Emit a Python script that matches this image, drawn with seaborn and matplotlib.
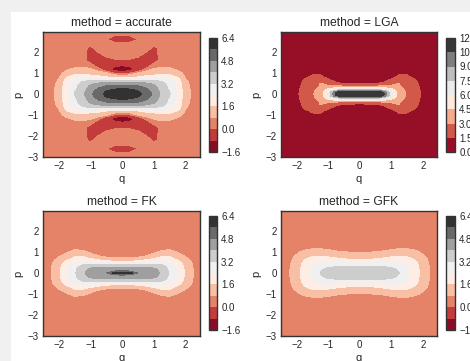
import matplotlib
matplotlib.use("Agg")
import matplotlib.pyplot as plt
from matplotlib.patches import Rectangle
import numpy as np
import pandas as pd
import seaborn as sns

# Phase-space density W(q, p) on a quarter grid
# (q >= 0, p >= 0); the panels are symmetric in q and p.
METHODS = ["accurate", "LGA", "FK", "GFK"]
Q_HALF = [0.0, 0.25, 0.5, 0.75, 1.0, 1.25, 1.5, 1.75, 2.0, 2.25, 2.5]
P_HALF = [0.0, 0.1, 0.2, 0.3, 0.4, 0.5, 0.6, 0.7, 0.8, 0.9, 1.0, 1.1, 1.2,
          1.4, 1.6, 1.8, 2.0, 2.2, 2.4, 2.6, 2.8, 3.0]

W_ACCURATE = [
    [6.3, 6.1, 5.8, 5.3, 4.6, 3.8, 3.25, 2.2, 1.2, 0.55, 0.2],
    [6.15, 5.98, 5.7, 5.2, 4.55, 3.75, 3.18, 2.18, 1.18, 0.54, 0.2],
    [5.85, 5.7, 5.45, 5.0, 4.35, 3.65, 3.1, 2.12, 1.15, 0.52, 0.2],
    [5.45, 5.35, 5.15, 4.75, 4.25, 3.62, 3.0, 2.08, 1.12, 0.48, 0.19],
    [4.95, 4.9, 4.75, 4.45, 4.1, 3.6, 2.95, 2.05, 1.1, 0.45, 0.18],
    [4.4, 4.38, 4.3, 4.1, 3.85, 3.45, 2.85, 2.02, 1.02, 0.42, 0.16],
    [3.75, 3.75, 3.7, 3.6, 3.45, 3.18, 2.75, 2.0, 0.95, 0.38, 0.15],
    [2.8, 2.85, 2.85, 2.9, 2.9, 2.8, 2.5, 1.85, 0.82, 0.34, 0.13],
    [1.45, 1.5, 1.65, 2.0, 2.25, 2.3, 2.1, 1.58, 0.72, 0.3, 0.12],
    [0.78, 0.85, 1.25, 1.4, 1.58, 1.8, 1.65, 1.35, 0.6, 0.26, 0.1],
    [-0.15, -0.05, 0.9, 1.05, 1.3, 1.4, 1.35, 1.15, 0.5, 0.22, 0.09],
    [-0.9, -0.8, -0.2, 0.75, 1.1, 1.15, 1.1, 0.85, 0.4, 0.18, 0.08],
    [-1.1, -0.95, -0.6, 0.1, 0.85, 0.95, 0.9, 0.65, 0.32, 0.15, 0.07],
    [-0.7, -0.6, -0.7, -0.6, 0.2, 0.5, 0.45, 0.35, 0.2, 0.1, 0.05],
    [-0.05, -0.1, -0.4, -0.7, -0.35, 0.25, 0.2, 0.15, 0.1, 0.07, 0.04],
    [0.25, 0.22, 0.12, -0.45, -0.55, 0.5, 0.1, 0.08, 0.06, 0.05, 0.04],
    [0.35, 0.35, 0.35, 0.05, -0.5, 0.55, 0.08, 0.06, 0.05, 0.05, 0.04],
    [0.3, 0.3, 0.3, 0.35, -0.15, 0.2, 0.1, 0.06, 0.05, 0.05, 0.04],
    [0.12, 0.12, 0.15, 0.25, 0.25, 0.15, 0.12, 0.08, 0.05, 0.05, 0.04],
    [-0.3, -0.25, 0.02, 0.15, 0.2, 0.2, 0.12, 0.08, 0.05, 0.05, 0.04],
    [0.05, 0.05, 0.08, 0.12, 0.15, 0.15, 0.12, 0.08, 0.05, 0.05, 0.04],
    [0.15, 0.15, 0.15, 0.15, 0.15, 0.15, 0.12, 0.08, 0.05, 0.05, 0.04],
]

W_LGA = [
    [11.8, 11.8, 11.6, 11.0, 6.5, 3.5, 2.9, 2.3, 1.2, 0.6, 0.3],
    [11.3, 11.3, 11.1, 10.3, 6.2, 3.45, 2.85, 2.25, 1.15, 0.6, 0.3],
    [7.6, 7.6, 7.55, 7.0, 5.2, 3.35, 2.8, 2.2, 1.1, 0.55, 0.3],
    [4.6, 4.6, 4.6, 4.55, 3.9, 3.2, 2.7, 2.1, 1.0, 0.5, 0.28],
    [2.4, 2.45, 2.55, 2.7, 3.05, 3.05, 2.55, 2.0, 0.95, 0.45, 0.25],
    [1.2, 1.25, 1.4, 1.8, 2.6, 3.05, 2.45, 1.9, 0.9, 0.45, 0.25],
    [0.75, 0.8, 0.95, 1.3, 2.1, 2.8, 2.3, 1.75, 0.85, 0.4, 0.22],
    [0.5, 0.52, 0.6, 0.9, 1.6, 2.3, 2.1, 1.55, 0.75, 0.35, 0.2],
    [0.35, 0.36, 0.42, 0.6, 1.1, 1.9, 1.8, 1.2, 0.6, 0.3, 0.18],
    [0.25, 0.26, 0.3, 0.42, 0.8, 1.55, 1.52, 0.95, 0.5, 0.25, 0.15],
    [0.18, 0.18, 0.2, 0.3, 0.55, 1.2, 1.15, 0.75, 0.4, 0.2, 0.12],
    [0.12, 0.12, 0.14, 0.2, 0.4, 0.9, 0.85, 0.55, 0.3, 0.16, 0.1],
    [0.1, 0.1, 0.1, 0.15, 0.3, 0.65, 0.6, 0.4, 0.22, 0.12, 0.08],
    [0.06, 0.06, 0.07, 0.08, 0.15, 0.35, 0.3, 0.2, 0.12, 0.08, 0.05],
    [0.05, 0.05, 0.05, 0.06, 0.08, 0.15, 0.14, 0.1, 0.07, 0.05, 0.04],
    [0.04, 0.04, 0.04, 0.05, 0.06, 0.08, 0.08, 0.06, 0.05, 0.04, 0.04],
    [0.04, 0.04, 0.04, 0.04, 0.05, 0.05, 0.05, 0.05, 0.04, 0.04, 0.04],
    [0.04, 0.04, 0.04, 0.04, 0.04, 0.04, 0.04, 0.04, 0.04, 0.04, 0.04],
    [0.04, 0.04, 0.04, 0.04, 0.04, 0.04, 0.04, 0.04, 0.04, 0.04, 0.04],
    [0.04, 0.04, 0.04, 0.04, 0.04, 0.04, 0.04, 0.04, 0.04, 0.04, 0.04],
    [0.04, 0.04, 0.04, 0.04, 0.04, 0.04, 0.04, 0.04, 0.04, 0.04, 0.04],
    [0.04, 0.04, 0.04, 0.04, 0.04, 0.04, 0.04, 0.04, 0.04, 0.04, 0.04],
]

W_FK = [
    [6.0, 5.95, 4.75, 4.5, 4.3, 3.85, 3.1, 2.38, 1.45, 0.78, 0.4],
    [4.78, 4.72, 4.6, 4.45, 4.25, 3.8, 3.05, 2.35, 1.42, 0.76, 0.4],
    [4.45, 4.45, 4.4, 4.3, 4.1, 3.7, 3.0, 2.3, 1.4, 0.75, 0.4],
    [3.85, 3.85, 3.85, 3.85, 3.8, 3.5, 2.9, 2.2, 1.35, 0.73, 0.38],
    [3.35, 3.35, 3.35, 3.4, 3.35, 3.15, 2.7, 2.05, 1.3, 0.7, 0.37],
    [2.0, 2.05, 2.2, 2.5, 2.7, 2.7, 2.45, 1.85, 1.2, 0.65, 0.35],
    [1.3, 1.32, 1.45, 1.75, 2.0, 2.15, 2.05, 1.62, 1.05, 0.6, 0.32],
    [0.85, 0.88, 0.98, 1.2, 1.55, 1.8, 1.75, 1.35, 0.9, 0.52, 0.3],
    [0.55, 0.57, 0.65, 0.85, 1.15, 1.55, 1.55, 1.1, 0.75, 0.45, 0.27],
    [0.4, 0.42, 0.48, 0.6, 0.9, 1.2, 1.25, 0.9, 0.62, 0.38, 0.24],
    [0.3, 0.32, 0.36, 0.45, 0.7, 0.95, 1.0, 0.75, 0.5, 0.32, 0.2],
    [0.25, 0.26, 0.28, 0.35, 0.52, 0.75, 0.82, 0.6, 0.42, 0.27, 0.18],
    [0.2, 0.2, 0.22, 0.28, 0.4, 0.58, 0.65, 0.48, 0.34, 0.22, 0.16],
    [0.15, 0.15, 0.16, 0.2, 0.27, 0.38, 0.42, 0.33, 0.24, 0.17, 0.12],
    [0.12, 0.12, 0.13, 0.15, 0.2, 0.26, 0.28, 0.24, 0.18, 0.13, 0.1],
    [0.1, 0.1, 0.1, 0.12, 0.15, 0.18, 0.2, 0.17, 0.14, 0.11, 0.09],
    [0.08, 0.08, 0.08, 0.09, 0.11, 0.13, 0.14, 0.13, 0.11, 0.09, 0.08],
    [0.07, 0.07, 0.07, 0.08, 0.09, 0.1, 0.1, 0.1, 0.09, 0.08, 0.07],
    [0.07, 0.07, 0.07, 0.07, 0.08, 0.08, 0.08, 0.08, 0.08, 0.07, 0.07],
    [0.06, 0.06, 0.06, 0.06, 0.07, 0.07, 0.07, 0.07, 0.07, 0.06, 0.06],
    [0.06, 0.06, 0.06, 0.06, 0.06, 0.06, 0.06, 0.06, 0.06, 0.06, 0.06],
    [0.06, 0.06, 0.06, 0.06, 0.06, 0.06, 0.06, 0.06, 0.06, 0.06, 0.06],
]

W_GFK = [
    [3.75, 3.75, 3.72, 3.65, 3.5, 3.22, 2.6, 2.0, 1.3, 0.75, 0.4],
    [3.7, 3.7, 3.68, 3.6, 3.45, 3.15, 2.58, 1.98, 1.28, 0.74, 0.4],
    [3.5, 3.5, 3.5, 3.45, 3.35, 3.05, 2.52, 1.95, 1.25, 0.72, 0.39],
    [3.18, 3.18, 3.19, 3.19, 3.12, 2.9, 2.45, 1.9, 1.22, 0.7, 0.38],
    [2.75, 2.75, 2.8, 2.85, 2.85, 2.7, 2.35, 1.85, 1.2, 0.68, 0.37],
    [2.3, 2.32, 2.42, 2.5, 2.55, 2.45, 2.2, 1.75, 1.15, 0.66, 0.36],
    [1.8, 1.82, 1.92, 2.05, 2.15, 2.15, 2.0, 1.62, 1.08, 0.63, 0.35],
    [1.35, 1.38, 1.48, 1.65, 1.8, 1.85, 1.78, 1.48, 1.0, 0.6, 0.33],
    [1.05, 1.07, 1.15, 1.3, 1.5, 1.62, 1.55, 1.3, 0.9, 0.55, 0.31],
    [0.88, 0.9, 0.95, 1.05, 1.22, 1.35, 1.32, 1.12, 0.79, 0.5, 0.29],
    [0.76, 0.77, 0.82, 0.88, 1.0, 1.1, 1.1, 0.95, 0.7, 0.46, 0.27],
    [0.62, 0.63, 0.66, 0.72, 0.82, 0.9, 0.9, 0.78, 0.6, 0.42, 0.26],
    [0.5, 0.5, 0.53, 0.58, 0.66, 0.72, 0.72, 0.64, 0.5, 0.37, 0.24],
    [0.35, 0.35, 0.37, 0.4, 0.45, 0.48, 0.48, 0.44, 0.36, 0.28, 0.2],
    [0.26, 0.26, 0.27, 0.29, 0.31, 0.33, 0.33, 0.31, 0.27, 0.22, 0.17],
    [0.2, 0.2, 0.21, 0.22, 0.23, 0.24, 0.24, 0.23, 0.21, 0.18, 0.15],
    [0.17, 0.17, 0.17, 0.18, 0.18, 0.19, 0.19, 0.18, 0.17, 0.15, 0.13],
    [0.15, 0.15, 0.15, 0.15, 0.16, 0.16, 0.16, 0.16, 0.15, 0.14, 0.12],
    [0.14, 0.14, 0.14, 0.14, 0.14, 0.14, 0.14, 0.14, 0.14, 0.13, 0.12],
    [0.13, 0.13, 0.13, 0.13, 0.13, 0.13, 0.13, 0.13, 0.13, 0.12, 0.11],
    [0.12, 0.12, 0.12, 0.12, 0.12, 0.12, 0.12, 0.12, 0.12, 0.11, 0.11],
    [0.12, 0.12, 0.12, 0.12, 0.12, 0.12, 0.12, 0.12, 0.12, 0.11, 0.11],
]

TABLES = {"accurate": W_ACCURATE, "LGA": W_LGA, "FK": W_FK, "GFK": W_GFK}

LEVELS_WIDE = [-1.6, -0.8, 0.0, 0.8, 1.6, 2.4, 3.2, 4.0, 4.8, 5.6, 6.4]
LEVELS_LGA = [0.0, 1.5, 3.0, 4.5, 6.0, 7.5, 9.0, 10.5, 12.0]
TICKS_WIDE = [-1.6, 0.0, 1.6, 3.2, 4.8, 6.4]
LEVELS = {"accurate": LEVELS_WIDE, "LGA": LEVELS_LGA, "FK": LEVELS_WIDE, "GFK": LEVELS_WIDE}
CBAR_TICKS = {"accurate": TICKS_WIDE, "LGA": LEVELS_LGA, "FK": TICKS_WIDE, "GFK": TICKS_WIDE}

# layout in pixels of the 470x361 image: (left, top, width, height)
FIG_W, FIG_H = 470, 361
AXES_BOX = {"accurate": (43, 32, 157, 125), "LGA": (281, 32, 156, 125),
            "FK": (43, 211, 157, 125), "GFK": (281, 211, 156, 125)}
CBAR_BOX = {"accurate": (209, 38, 8, 114), "LGA": (446, 38, 9, 114),
            "FK": (209, 216, 8, 114), "GFK": (446, 216, 9, 114)}

TEXT = "#262626"
CONTOURS = {}


def px_box(box):
    x, y, w, h = box
    return [x / FIG_W, 1 - (y + h) / FIG_H, w / FIG_W, h / FIG_H]


def mirror(values):
    arr = np.array(values, dtype=float)
    arr = np.hstack([arr[:, :0:-1], arr])
    return np.vstack([arr[:0:-1], arr])


def build_frame() -> pd.DataFrame:
    q_half = np.array(Q_HALF)
    p_half = np.array(P_HALF)
    q_full = np.concatenate([-q_half[:0:-1], q_half])
    p_full = np.concatenate([-p_half[:0:-1], p_half])
    qq, pp = np.meshgrid(q_full, p_full)
    frames = []
    for method in METHODS:
        frames.append(pd.DataFrame({
            "method": method,
            "q": qq.ravel(),
            "p": pp.ravel(),
            "W": mirror(TABLES[method]).ravel(),
        }))
    return pd.concat(frames, ignore_index=True)


def draw_wigner(data, **kwargs):
    ax = plt.gca()
    method = data["method"].iloc[0]
    grid = data.pivot(index="p", columns="q", values="W")
    cs = ax.contourf(grid.columns.values, grid.index.values, grid.values,
                     levels=LEVELS[method], cmap=kwargs["cmap"])
    CONTOURS[method] = cs


sns.set_theme(style="white")
plt.rcParams["font.family"] = ["Liberation Sans", "DejaVu Sans"]
plt.rcParams["text.color"] = TEXT
plt.rcParams["axes.labelcolor"] = TEXT
plt.rcParams["xtick.color"] = TEXT
plt.rcParams["ytick.color"] = TEXT

df = build_frame()
cmap = sns.color_palette("RdGy", as_cmap=True)

g = sns.FacetGrid(df, col="method", col_wrap=2, col_order=METHODS,
                  sharex=False, sharey=False, height=1.8, aspect=1.3)
g.map_dataframe(draw_wigner, cmap=cmap)

fig = g.figure
fig.set_size_inches(FIG_W / 100, FIG_H / 100)
fig.set_facecolor("#f0f0f0")
fig.patches.append(Rectangle((11 / FIG_W, 0), 1 - 11 / FIG_W, 1 - 12 / FIG_H,
                             transform=fig.transFigure, facecolor="white",
                             edgecolor="none", zorder=-10))

for method in METHODS:
    ax = g.axes_dict[method]
    ax.set_position(px_box(AXES_BOX[method]))
    ax.set_xlim(-2.5, 2.45)
    ax.set_ylim(-3, 2.95)
    ax.set_xticks([-2, -1, 0, 1, 2])
    ax.set_yticks([-3, -2, -1, 0, 1, 2])
    ax.set_title(f"method = {method}", fontsize=8.7, color=TEXT, pad=4)
    ax.set_xlabel("q", fontsize=8, labelpad=2)
    ax.set_ylabel("p", fontsize=8, labelpad=3)
    ax.tick_params(labelsize=7, length=0, pad=3)
    for spine in ax.spines.values():
        spine.set_visible(True)
        spine.set_color("#333333")
        spine.set_linewidth(1.0)

    cax = fig.add_axes(px_box(CBAR_BOX[method]))
    cbar = fig.colorbar(CONTOURS[method], cax=cax, ticks=CBAR_TICKS[method])
    cbar.ax.tick_params(labelsize=7, length=0, pad=3)
    cbar.outline.set_edgecolor("#333333")
    cbar.outline.set_linewidth(1.0)

fig.savefig("out.png", dpi=100, facecolor=fig.get_facecolor())
